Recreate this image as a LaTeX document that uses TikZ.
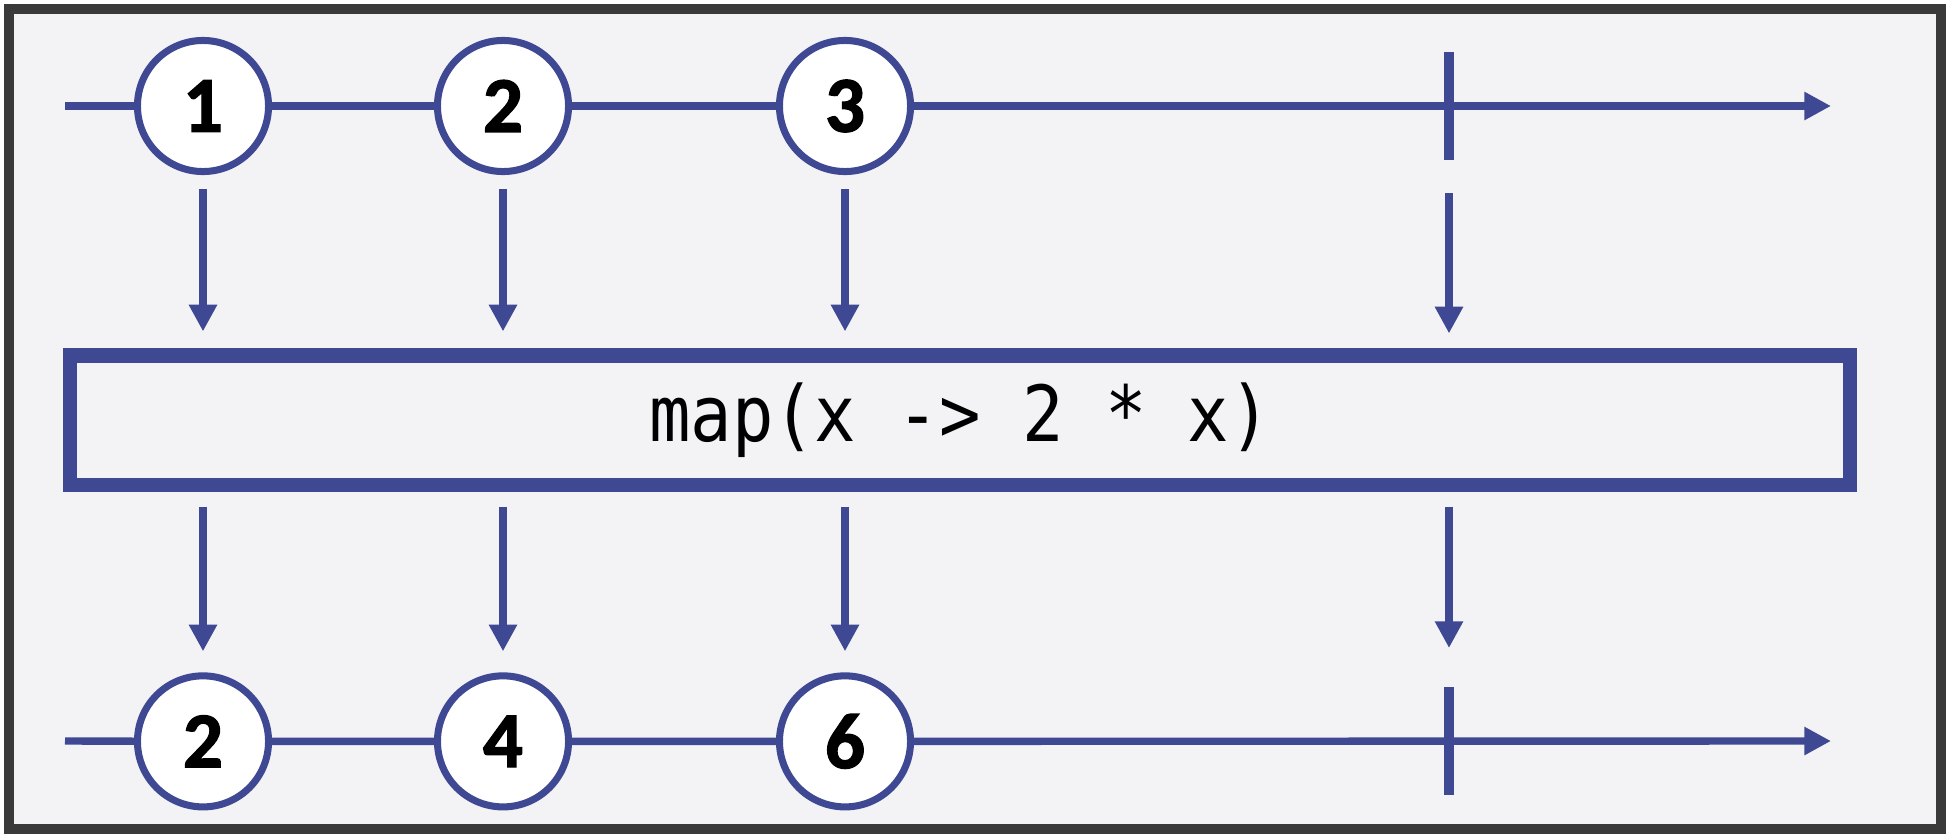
\documentclass[tikz,border=0pt]{standalone}
\usepackage{fontspec}
\usetikzlibrary{arrows.meta,calc}
\newfontfamily\digitfont{Carlito}[UprightFont=*-Regular, BoldFont=*-Bold, Extension=.ttf, BoldFeatures={FakeBold=1.6}]
\newfontfamily\codefont[FakeStretch=0.89]{DejaVu Sans Mono}
\definecolor{rxblue}{RGB}{63,72,146}
\definecolor{paper}{RGB}{243,243,246}
\definecolor{edgegrey}{RGB}{58,58,58}

\begin{document}
\begin{tikzpicture}[x=0.01cm, y=-0.01cm, node distance={6.35cm},
    marble/.style = {draw=rxblue, line width=2pt, circle, fill=white, minimum size=1.31cm, inner sep=0pt,
                     font=\digitfont\bfseries\fontsize{22.5}{24}\selectfont},
    flow/.style = {draw=rxblue, line width=2.1pt, -{Triangle[length=7.6pt,width=7.6pt]}},
    tick/.style = {draw=rxblue, line width=2.85pt},
    mapbox/.style = {draw=rxblue, line width=4pt, minimum width=17.79cm, minimum height=1.29cm,
                     font=\codefont\fontsize{22}{26}\selectfont}]
    % background and frame
    \useasboundingbox (0,0) rectangle (1948,836);
    \fill[white] (0,0) rectangle (1948,836);
    \draw[edgegrey, fill=paper, line width=2.8pt] (9,9) rectangle (1941,829);

    % input stream
    \node[marble] (i1) at (203,106) {1};
    \node[marble] (i2) at (503,106) {2};
    \node[marble] (i3) at (845,106) {3};
    \coordinate (t1) at (1449,106);
    \coordinate (s1) at (65,106);
    \coordinate (e1) at (1831,106);

    % operator
    \node[mapbox] (op) at (960,420) {map(x -> 2 * x)};

    % output stream
    \node[marble] (o1) [below of=i1] {2};
    \node[marble] (o2) [below of=i2] {4};
    \node[marble] (o3) [below of=i3] {6};
    \coordinate (t2) at (1449,741);
    \coordinate (s2) at (65,741);
    \coordinate (e2) at (1831,741);

    \draw[flow] (s1) -- (i1) -- (i2) -- (i3) -- (e1);
    \draw[flow] (s2) -- (o1) -- (o2) -- (o3) -- (e2);
    \draw[tick] ($(t1)+(0,-54)$) -- ($(t1)+(0,54)$);
    \draw[tick] ($(t2)+(0,-54)$) -- ($(t2)+(0,54)$);

    \foreach \n in {1,2,3} {
      \draw[flow] ($(i\n.south)+(0,14)$) -- ($(op.north -| i\n)+(0,-17)$);
      \draw[flow] ($(op.south -| o\n)+(0,15)$) -- ($(o\n.north)+(0,-21)$);
    }
    \draw[flow] ($(t1)+(0,87)$) -- ($(op.north -| t1)+(0,-15)$);
    \draw[flow] ($(op.south -| t2)+(0,15)$) -- ($(t2)+(0,-93)$);
  \end{tikzpicture}
\end{document}
